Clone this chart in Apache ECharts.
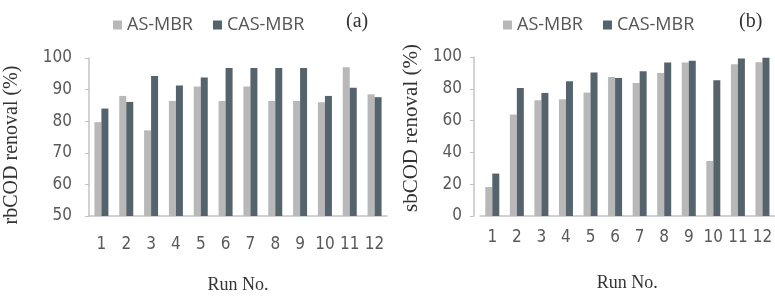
<!DOCTYPE html>
<html>
<head>
<meta charset="utf-8">
<script src="https://cdn.jsdelivr.net/npm/echarts@6/dist/echarts.min.js"></script>
<style>
  html, body { margin: 0; padding: 0; background: #fff; }
  #chart { width: 775px; height: 299px; }
</style>
</head>
<body>
<div id="chart"></div>
<script>
// run numbers on the x axis
const runs = ['1', '2', '3', '4', '5', '6', '7', '8', '9', '10', '11', '12'];

// (a) rbCOD removal, %
const rbAS  = [79.7, 88.0, 77.1, 86.4, 91.0, 86.4, 91.0, 86.4, 86.4, 86.0, 97.1, 88.5];
const rbCAS = [84.0, 86.1, 94.3, 91.3, 93.8, 96.8, 96.8, 96.8, 96.8, 88.0, 90.6, 87.6];

// (b) sbCOD removal, %
const sbAS  = [18.2, 63.8, 72.8, 73.4, 77.6, 87.4, 83.6, 89.9, 96.5, 34.6, 95.4, 96.7];
const sbCAS = [26.7, 80.5, 77.4, 84.7, 90.2, 86.8, 91.0, 96.5, 97.7, 85.3, 99.0, 99.6];

const colAS = '#b8b8b8';
const colCAS = '#55636d';
const sans = '"DejaVu Sans Condensed", "DejaVu Sans", sans-serif';
const serif = '"Liberation Serif", "Times New Roman", serif';
const axisGray = '#c3c3c3';

const chart = echarts.init(document.getElementById('chart'));

function xAxisFor(idx, gap, margin) {
    return {
        type: 'category',
        gridIndex: idx,
        data: runs,
        name: 'Run No.',
        nameLocation: 'middle',
        nameGap: gap,
        nameTextStyle: { fontFamily: serif, fontSize: 18, color: '#333' },
        axisLine: { lineStyle: { color: axisGray, width: 1.5 } },
        axisTick: { show: false },
        axisLabel: { interval: 0, fontFamily: sans, fontSize: 17, color: '#595959', margin: margin }
    };
}

function yAxisFor(idx, min, interval, margin, offset) {
    return {
        type: 'value',
        gridIndex: idx,
        min: min,
        max: 100,
        interval: interval,
        offset: offset,
        splitLine: { show: false },
        axisLine: { show: true, lineStyle: { color: axisGray, width: 1.5 } },
        axisTick: { show: true, length: 4, lineStyle: { color: axisGray } },
        axisLabel: { fontFamily: sans, fontSize: 17, color: '#595959', margin: margin }
    };
}

function legendFor(left) {
    return {
        left: left,
        top: 11,
        icon: 'rect',
        itemWidth: 9,
        itemHeight: 9,
        itemGap: 20,
        textStyle: { fontFamily: '"Open Sans", sans-serif', fontSize: 18, color: '#555' },
        data: ['AS-MBR', 'CAS-MBR']
    };
}

chart.setOption({
    animation: false,
    backgroundColor: '#fff',
    title: [
        { text: '(a)', left: 341, top: 7, textStyle: { fontFamily: serif, fontSize: 20, fontWeight: 'normal', color: '#333' } },
        { text: '(b)', left: 734, top: 7, textStyle: { fontFamily: serif, fontSize: 20, fontWeight: 'normal', color: '#333' } }
    ],
    legend: [legendFor(108), legendFor(498)],
    grid: [
        { left: 89, top: 58, width: 298, height: 159 },
        { left: 480, top: 57, width: 299, height: 159 }
    ],
    xAxis: [xAxisFor(0, 60, 20), xAxisFor(1, 58, 13)],
    yAxis: [yAxisFor(0, 50, 10, 17, 0), yAxisFor(1, 0, 20, 12, 6)],
    graphic: [
        {
            type: 'text', x: 12, y: 145, rotation: Math.PI / 2,
            style: { text: 'rbCOD renoval (%)', font: '20px ' + serif, fill: '#333', align: 'center', verticalAlign: 'middle' }
        },
        {
            type: 'text', x: 411, y: 128, rotation: Math.PI / 2,
            style: { text: 'sbCOD renoval (%)', font: '21px ' + serif, fill: '#333', align: 'center', verticalAlign: 'middle' }
        }
    ],
    series: [
        { name: 'AS-MBR', type: 'bar', xAxisIndex: 0, yAxisIndex: 0, data: rbAS, barWidth: 7, barGap: '0%', itemStyle: { color: colAS } },
        { name: 'CAS-MBR', type: 'bar', xAxisIndex: 0, yAxisIndex: 0, data: rbCAS, barWidth: 7, barGap: '0%', itemStyle: { color: colCAS } },
        { name: 'AS-MBR', type: 'bar', xAxisIndex: 1, yAxisIndex: 1, data: sbAS, barWidth: 7, barGap: '0%', itemStyle: { color: colAS } },
        { name: 'CAS-MBR', type: 'bar', xAxisIndex: 1, yAxisIndex: 1, data: sbCAS, barWidth: 7, barGap: '0%', itemStyle: { color: colCAS } }
    ]
});
</script>
</body>
</html>
